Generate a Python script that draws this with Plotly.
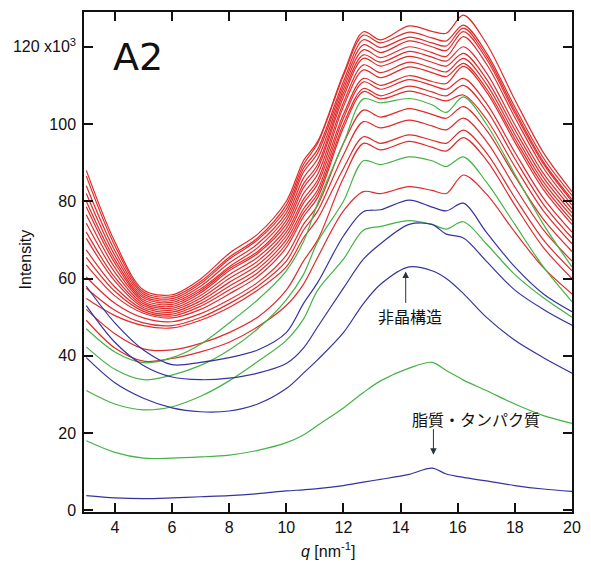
import plotly.graph_objects as go

# scattering vector grid (nm^-1) shared by every scan
q_nm = [3, 4, 5, 6, 7, 8, 9, 10, 10.6, 11.1, 12, 12.7, 13.3, 14.3, 15.1, 15.6, 16.2, 17, 18, 19, 20]

# red scans (intensity x10^3)
red01 = [88, 69.5, 57, 55.8, 59.9, 66.5, 71.5, 80, 90.5, 95.5, 113, 123.9, 121.8, 125.4, 124, 123.5, 128.2, 120.9, 106.3, 92.6, 82.5]
red02 = [86.5, 68.5, 56.5, 55.3, 59.2, 65.5, 70.5, 79, 89.5, 95, 112.5, 123, 121, 123.8, 122.3, 121.5, 125.6, 118.5, 104.4, 91.2, 81.5]
red03 = [84, 67.2, 56, 54.8, 58.7, 65, 70, 78, 88.5, 93.5, 111, 121.8, 119.8, 122.5, 121, 120.2, 124.8, 117.7, 103.5, 90.2, 80.5]
red04 = [82, 66, 55.5, 54.3, 58, 64, 69, 77, 87.5, 92.5, 110, 120.5, 118.5, 121.5, 120, 119, 123.9, 116.9, 102.8, 89.7, 80]
red05 = [80, 64.9, 55, 53.8, 57.3, 63, 68, 76, 86, 91, 109, 119.2, 117.2, 120, 118.5, 117.5, 122.6, 115.6, 101.7, 88.6, 79]
red06 = [78.6, 64, 54.5, 53.3, 56.8, 62.5, 67, 75, 84.5, 89.5, 108, 117.9, 116, 118.8, 117.3, 116.3, 120, 113.3, 99.8, 87.2, 78]
red07 = [76.5, 62.8, 54, 52.8, 56.3, 62, 66.5, 74, 83.5, 88.5, 107, 117, 115, 117.5, 116, 115, 118.3, 111.7, 98.5, 86.1, 77]
red08 = [74.3, 61.6, 53.5, 52.3, 55.6, 61, 65.5, 73, 82, 87, 105.5, 115.3, 113.3, 116, 114.5, 113.5, 117, 110.4, 97.3, 85, 76]
red09 = [72, 60.3, 53, 51.8, 54.9, 60, 64.5, 72, 80.5, 85.5, 104.5, 114, 112, 114.8, 113.3, 112.3, 115.7, 109.2, 96.2, 84, 75]
red10 = [70.4, 59.3, 52.5, 51.3, 54.2, 59, 63.5, 71, 79.5, 84.5, 102.5, 111.8, 110, 112.5, 111, 110.5, 114.9, 108.4, 95.3, 83, 74]
red11 = [67.4, 57.8, 52, 50.8, 53.5, 58, 62.5, 70, 78, 83, 101.5, 110.9, 109, 111.5, 110, 109, 111.8, 105.4, 92.7, 80.8, 72]
red12 = [65.5, 56.7, 51.5, 50.3, 52.8, 57, 61.5, 69, 77, 82, 100, 109.2, 107.3, 109.8, 108.3, 107.3, 110, 103.7, 91, 79.2, 70.5]
red13 = [63.5, 55.5, 51, 49.8, 52, 56, 60.5, 68, 76, 81, 99, 108.4, 106.5, 108.5, 107, 106, 107.5, 101.3, 89, 77.5, 69]
red14 = [60.4, 53.6, 49.8, 48.8, 50.9, 54.5, 59, 66, 74, 79, 95, 103.6, 101.8, 104, 102.5, 101.5, 104.5, 98.5, 86.5, 75.3, 67]
red15 = [57.5, 51.8, 48.5, 47.8, 49.9, 53.5, 58, 64.5, 72.5, 77.5, 92, 100.6, 99, 101, 99.5, 98.5, 101.5, 95.6, 83.7, 72.6, 64.5]
red16 = [54.8, 50.4, 47.8, 47.2, 49.2, 52.5, 57, 63, 70.5, 75.5, 88.5, 96.7, 95, 97.2, 95.8, 95, 98.4, 92.6, 80.9, 70, 62]
red17 = [52, 45.7, 41.8, 41.5, 43.2, 46, 50, 57, 64.5, 70, 86, 95, 93.3, 95.5, 94, 93, 96.5, 90.7, 79, 68, 60]
red18 = [49.2, 42, 38.6, 39.3, 41, 43.5, 47.5, 53, 58.5, 65.5, 77.5, 82.5, 82, 83.8, 82.8, 82, 86.8, 81.9, 72, 62.8, 56]

# green scans
green1 = [18, 15, 13.5, 13.5, 13.8, 14.3, 15.5, 17.5, 19.5, 22, 26.5, 30.5, 33.5, 36.8, 38.3, 36.2, 33.7, 31, 27.5, 24.5, 22.5]
green2 = [31, 27.5, 26, 26.8, 29.5, 33.5, 38.5, 44, 49.5, 57, 65, 72.5, 73.5, 75, 74, 72.8, 74.7, 69, 61, 55, 50]
green3 = [42.3, 36.5, 33.8, 35, 37.5, 41.5, 47, 54.5, 61, 69.5, 80, 90.5, 89.5, 91.5, 90.5, 89, 91.5, 85, 74, 63, 54]
green4 = [47, 41, 38.2, 39.5, 43, 48.5, 54.5, 62, 69.5, 79.5, 95, 106.5, 105.5, 106.6, 105, 103, 107, 100, 87, 74, 63]

# blue scans
blue1 = [3.8, 3.2, 3.0, 3.2, 3.5, 3.8, 4.3, 5.0, 5.3, 5.6, 6.4, 7.3, 8.0, 9.3, 10.9, 9.4, 8.5, 7.6, 6.4, 5.5, 4.9]
blue2 = [39.5, 33, 29, 26.5, 25.5, 25.7, 27.5, 31.5, 35.5, 39, 46, 53.5, 58.5, 63, 62, 60, 56.1, 50, 44, 39.5, 35.5]
blue3 = [53, 43.5, 37.5, 34.5, 33.8, 34.2, 35.5, 38, 42, 47.5, 57.5, 65, 69, 74, 74, 71.5, 70.5, 64.5, 57, 52, 47.9]
blue4 = [58, 48.5, 41.5, 37.7, 38.3, 39.5, 41.5, 46, 53.5, 59, 71, 77.3, 77.8, 80.3, 78.5, 77.5, 79.5, 72, 63, 56, 51.4]

red_set = [red01, red02, red03, red04, red05, red06, red07, red08, red09,
           red10, red11, red12, red13, red14, red15, red16, red17, red18]
green_set = [green1, green2, green3, green4]
blue_set = [blue1, blue2, blue3, blue4]

x_ticks = [4, 6, 8, 10, 12, 14, 16, 18, 20]
y_ticks = [0, 20, 40, 60, 80, 100, 120]
y_tick_text = ["0", "20", "40", "60", "80", "100", "120 x10<sup>3</sup>"]

RED = "#e02b2b"
GREEN = "#45b345"
BLUE = "#3434a0"

fig = go.Figure()


def add_scan(values, color):
    fig.add_trace(go.Scatter(
        x=q_nm, y=values, mode="lines",
        line=dict(color=color, width=1.2, shape="spline", smoothing=0.9),
        hoverinfo="skip", showlegend=False,
    ))


for s in red_set:
    add_scan(s, RED)
for s in green_set:
    add_scan(s, GREEN)
for s in blue_set:
    add_scan(s, BLUE)

sans = "Liberation Sans, Arial, sans-serif"
tick_font = dict(family=sans, size=16, color="#111")
axis_common = dict(
    showline=True, linecolor="#111", linewidth=1.5, mirror="ticks",
    ticks="inside", ticklen=9, tickwidth=1.5, tickcolor="#111",
    showgrid=False, zeroline=False, tickfont=tick_font,
)

fig.update_layout(
    width=591, height=562,
    margin=dict(l=84, r=10, t=12, b=50),
    paper_bgcolor="white", plot_bgcolor="white",
    xaxis=dict(range=[2.92, 20.0], tickvals=x_ticks, ticklabelstandoff=0, **axis_common),
    yaxis=dict(range=[-0.45, 129], tickvals=y_ticks, ticktext=y_tick_text,
               ticklabelstandoff=3, **axis_common),
    hovermode=False,
)

cjk = "Noto Sans CJK JP"
fig.add_annotation(x=4.81, y=117.4, xref="x", yref="y", text="A2", showarrow=False,
                   xanchor="center", yanchor="middle",
                   font=dict(family="DejaVu Sans", size=38, color="#111"))

# amorphous halo label and pointer
fig.add_annotation(x=14.32, y=50.4, xref="x", yref="y", text="非晶構造", showarrow=False,
                   xanchor="center", yanchor="middle",
                   font=dict(family=cjk, size=16, color="#111"))
fig.add_annotation(x=14.18, y=61.8, ax=14.18, ay=53.3, xref="x", yref="y", axref="x", ayref="y",
                   text="", showarrow=True, arrowhead=2, arrowsize=1.3, arrowwidth=1, arrowcolor="#2a3340")

# lipid / protein label and pointer
fig.add_annotation(x=16.63, y=23.6, xref="x", yref="y", text="脂質・タンパク質", showarrow=False,
                   xanchor="center", yanchor="middle",
                   font=dict(family=cjk, size=16, color="#111"))
fig.add_annotation(x=15.15, y=14.4, ax=15.15, ay=21.4, xref="x", yref="y", axref="x", ayref="y",
                   text="", showarrow=True, arrowhead=2, arrowsize=1.3, arrowwidth=1, arrowcolor="#2a3340")

# axis titles
fig.add_annotation(x=-0.119, y=0.505, xref="paper", yref="paper", text="Intensity", showarrow=False,
                   xanchor="center", yanchor="middle", textangle=-90,
                   font=dict(family=sans, size=16, color="#111"))
fig.add_annotation(x=0.5, y=-0.076, xref="paper", yref="paper", text="<i>q</i> [nm<sup>-1</sup>]",
                   xanchor="center", yanchor="middle", showarrow=False,
                   font=dict(family=sans, size=16, color="#111"))

fig.write_html("out.html", config={"displayModeBar": False})
